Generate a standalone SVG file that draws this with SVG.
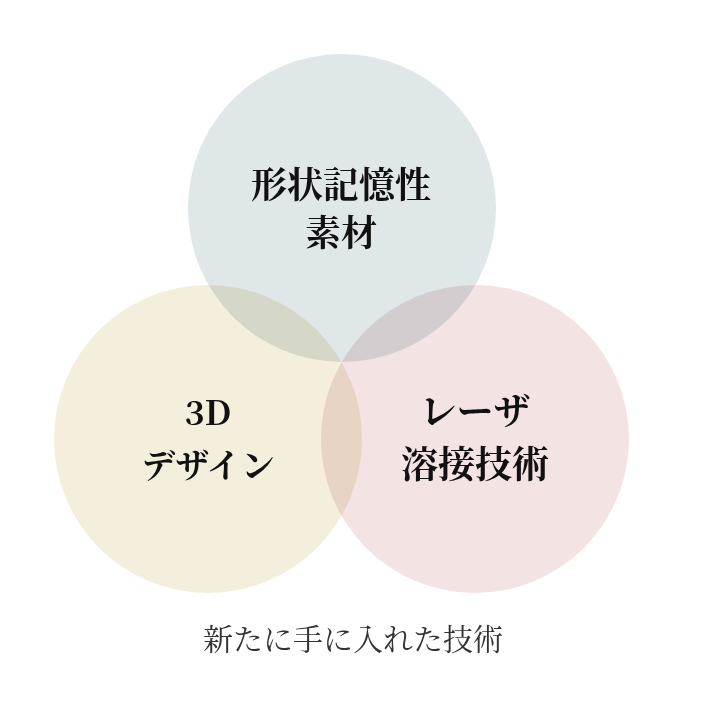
<svg xmlns="http://www.w3.org/2000/svg" width="706" height="706" viewBox="0 0 706 706">
<style>
.c{mix-blend-mode:multiply}
.lb{font-family:"Noto Serif CJK JP","Noto Sans CJK JP",serif;font-weight:700;fill:#111;text-anchor:middle}
.cap{font-family:"Noto Serif CJK JP","Noto Sans CJK JP",serif;font-weight:400;fill:#333;text-anchor:middle}
</style>
<rect width="706" height="706" fill="#ffffff"/>
<g style="isolation:isolate">
<g id="node-shape-memory">
<circle class="c" cx="342" cy="208" r="154" fill="#dfe7e9"/>
</g>
<g id="node-3d-design">
<circle class="c" cx="208" cy="439" r="154" fill="#f4efdc"/>
</g>
<g id="node-laser">
<circle class="c" cx="475" cy="439" r="154" fill="#f3e3e3"/>
</g>
</g>
<g id="labels">
<g id="label-shape-memory">
<text class="lb" x="341" y="198" font-size="36">形状記憶性</text>
<text class="lb" x="341" y="246" font-size="36">素材</text>
</g>
<g id="label-3d-design">
<text class="lb" x="208" y="425" font-size="34">3D</text>
<text class="lb" x="208" y="478" font-size="34">デザイン</text>
</g>
<g id="label-laser">
<text class="lb" x="475" y="425" font-size="37">レーザ</text>
<text class="lb" x="475" y="478" font-size="37">溶接技術</text>
</g>
</g>
<g id="connectors"></g>
<text class="cap" x="353" y="650" font-size="30">新たに手に入れた技術</text>
</svg>
